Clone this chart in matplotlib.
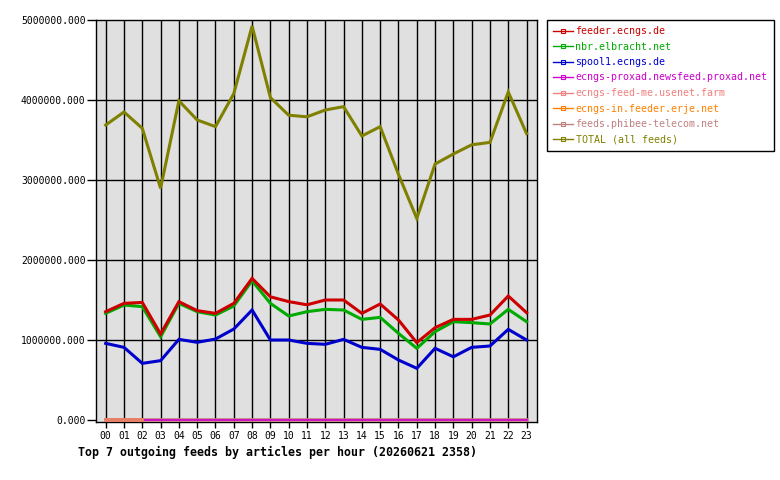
import matplotlib
matplotlib.use("Agg")
import matplotlib.pyplot as plt
from matplotlib.lines import Line2D
import numpy as np

hours = list(range(24))
hour_labels = [f"{h:02d}" for h in hours]

feeder = [1354000, 1458000, 1470000, 1075000, 1479000, 1367000, 1333000, 1458000,
          1770000, 1540000, 1480000, 1440000, 1500000, 1500000, 1333000, 1450000,
          1250000, 967000, 1154000, 1258000, 1258000, 1312000, 1550000, 1342000]
nbr = [1333000, 1437000, 1417000, 1040000, 1458000, 1354000, 1312000, 1425000,
       1740000, 1458000, 1300000, 1354000, 1383000, 1375000, 1258000, 1283000,
       1083000, 896000, 1104000, 1229000, 1217000, 1200000, 1383000, 1229000]
spool1 = [958000, 908000, 708000, 742000, 1008000, 971000, 1012000, 1137000,
          1375000, 1000000, 1000000, 958000, 946000, 1008000, 908000, 883000,
          750000, 646000, 896000, 790000, 908000, 925000, 1133000, 1000000]
proxad = [0] * 24
feedme = [0] * 24
erje = [0, 0, 0] + [np.nan] * 21
phibee = [0] * 24
total = [3687000, 3850000, 3646000, 2896000, 3990000, 3750000, 3667000, 4080000,
         4925000, 4030000, 3810000, 3790000, 3875000, 3917000, 3550000, 3667000,
         3070000, 2520000, 3200000, 3325000, 3440000, 3470000, 4100000, 3580000]

series = [
    ("feeder.ecngs.de", feeder, "#cc0000", 2.2),
    ("nbr.elbracht.net", nbr, "#00aa00", 2.2),
    ("spool1.ecngs.de", spool1, "#0000cc", 2.2),
    ("ecngs-proxad.newsfeed.proxad.net", proxad, "#cc00cc", 1.2),
    ("ecngs-feed-me.usenet.farm", feedme, "#f08080", 1.0),
    ("ecngs-in.feeder.erje.net", erje, "#e88068", 2.8),
    ("feeds.phibee-telecom.net", phibee, "#c08080", 2.6),
    ("TOTAL (all feeds)", total, "#808000", 2.2),
]
legend_colors = ["#cc0000", "#00aa00", "#0000cc", "#cc00cc", "#f08080", "#ff8000", "#c08080", "#808000"]

fig = plt.figure(figsize=(7.8, 4.8), dpi=100)
ax = fig.add_axes([96/780, 1-422/480, (537-96)/780, (422-20)/480])
ax.set_facecolor("#e0e0e0")

# draw order: phibee at bottom, then pink, magenta, orange, then main feeds
order = [6, 4, 3, 5, 2, 1, 0, 7]
for k, i in enumerate(order):
    name, vals, col, lw = series[i]
    ax.plot(hours, vals, color=col, lw=lw, solid_joinstyle="miter",
            solid_capstyle="projecting", zorder=3 + k * 0.01)

ax.set_xlim(-0.53, 23.57)
ax.set_ylim(-25000, 5000000)
ax.set_xticks(hours)
ax.set_xticklabels(hour_labels, fontsize=7, family="DejaVu Sans Mono")
yt = [0, 1000000, 2000000, 3000000, 4000000, 5000000]
ax.set_yticks(yt)
ax.set_yticklabels([f"{v:.3f}" for v in yt], fontsize=7, family="DejaVu Sans Mono")
ax.tick_params(axis="y", length=6.5, width=1.0, pad=1, color="black")
ax.tick_params(axis="x", length=4.3, width=1.0, pad=2, color="black")

for h in hours:
    ax.axvline(h, color="black", lw=1.0, zorder=1)
for v in [1000000, 2000000, 3000000, 4000000]:
    ax.axhline(v, color="black", lw=1.0, zorder=1)
for s in ax.spines.values():
    s.set_color("black")
    s.set_linewidth(1.0)

fig.text(78/780, 1-452/480, "Top 7 outgoing feeds by articles per hour (20260621 2358)",
         fontsize=8.4, fontweight="bold", family="DejaVu Sans Mono", va="center", ha="left")

handles = [Line2D([0], [0], color=c, lw=1.0, marker="s", markersize=2.5,
                  markerfacecolor="none", markeredgewidth=0.8) for c in legend_colors]
labels = [s[0] for s in series]
leg = fig.legend(handles, labels, loc="upper left", bbox_to_anchor=(547/780, 1-20/480),
                 bbox_transform=fig.transFigure, borderaxespad=0, fancybox=False,
                 framealpha=1, edgecolor="black", handlelength=2.0, handletextpad=0.25,
                 labelspacing=0.55, borderpad=0.6,
                 prop={"family": "DejaVu Sans Mono", "size": 7.2})
leg.get_frame().set_linewidth(1.0)
for t, c in zip(leg.get_texts(), legend_colors):
    t.set_color(c)

fig.savefig("out.png", dpi=100)
